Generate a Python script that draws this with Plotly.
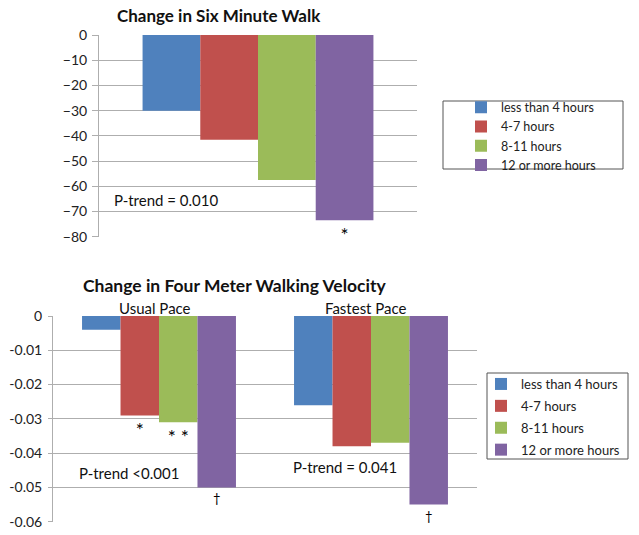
import plotly.graph_objects as go

# ---- data ----
groups = ["less than 4 hours", "4-7 hours", "8-11 hours", "12 or more hours"]
colors = ["#4F81BD", "#C0504D", "#9BBB59", "#8064A2"]

walk_cat = ["Six Minute Walk"]
walk_vals = [[-30], [-41.5], [-57.5], [-73.5]]
walk_marks = [[""], [""], [""], ["*"]]

pace_cats = ["Usual Pace", "Fastest Pace"]
pace_vals = [[-0.004, -0.026], [-0.029, -0.038], [-0.031, -0.037], [-0.050, -0.055]]
pace_marks = [["", ""], ["*", ""], ["* *", ""], ["†", "†"]]

top_ticks = [0, -10, -20, -30, -40, -50, -60, -70, -80]
bot_ticks = [0, -0.01, -0.02, -0.03, -0.04, -0.05, -0.06]
bot_labels = ["0", "-0.01", "-0.02", "-0.03", "-0.04", "-0.05", "-0.06"]

FONT = "Lato"
W, H = 639, 535


def mark_sizes(marks):
    return [19 if "*" in m else 13 for m in marks]


fig = go.Figure()
for i, g in enumerate(groups):
    mf = dict(size=mark_sizes(walk_marks[i]), color="#000000", family=FONT)
    fig.add_trace(go.Bar(
        x=walk_cat, y=walk_vals[i], name=g, marker=dict(color=colors[i], line=dict(width=0)),
        text=walk_marks[i], textposition="outside", constraintext="none", cliponaxis=False,
        textfont=mf, outsidetextfont=mf, hoverinfo="skip",
        xaxis="x", yaxis="y", legend="legend", legendgroup="t%d" % i))
for i, g in enumerate(groups):
    mf = dict(size=mark_sizes(pace_marks[i]), color="#000000", family=FONT)
    fig.add_trace(go.Bar(
        x=pace_cats, y=pace_vals[i], name=g, marker=dict(color=colors[i], line=dict(width=0)),
        text=pace_marks[i], textposition="outside", constraintext="none", cliponaxis=False,
        textfont=mf, outsidetextfont=mf, hoverinfo="skip",
        xaxis="x2", yaxis="y2", legend="legend2", legendgroup="b%d" % i))

def px(x): return x / W
def py(y): return 1 - y / H

grid = "#AEAEAE"
tickfont = dict(size=14, family=FONT, color="#222222")
fig.update_layout(
    width=W, height=H, margin=dict(l=0, r=0, t=0, b=0, autoexpand=False),
    paper_bgcolor="white", plot_bgcolor="white",
    font=dict(family=FONT, size=12, color="#222222"),
    barmode="group", bargap=0.274, bargroupgap=0,
    xaxis=dict(domain=[px(99), px(417)], anchor="y", showticklabels=False, showgrid=False,
               zeroline=False, showline=False, automargin=False),
    yaxis=dict(domain=[py(236.7), py(35)], anchor="x", range=[-80, 0], tickvals=top_ticks,
               showgrid=True, gridcolor=grid, gridwidth=1, zeroline=False, automargin=False,
               showline=True, linecolor=grid, ticks="outside", ticklen=6, tickcolor=grid,
               tickfont=tickfont, ticklabelstandoff=2),
    xaxis2=dict(domain=[px(53), px(477)], anchor="y2", showticklabels=False, showgrid=False,
                zeroline=False, showline=False, automargin=False),
    yaxis2=dict(domain=[py(521.7), py(316)], anchor="x2", range=[-0.06, 0], tickvals=bot_ticks,
                ticktext=bot_labels, showgrid=True, gridcolor=grid, gridwidth=1, zeroline=False,
                automargin=False,
                showline=True, linecolor=grid, ticks="outside", ticklen=4, tickcolor=grid,
                tickfont=tickfont, ticklabelstandoff=3),
    legend=dict(x=px(461), y=py(92.5), xanchor="left", yanchor="top", bgcolor="rgba(0,0,0,0)",
                borderwidth=0, font=dict(size=12.5, family=FONT, color="#222222"),
                tracegroupgap=0, itemclick=False, itemdoubleclick=False),
    legend2=dict(x=px(481), y=py(369), xanchor="left", yanchor="top", bgcolor="rgba(0,0,0,0)",
                 borderwidth=0, font=dict(size=13, family=FONT, color="#222222"),
                 tracegroupgap=2, itemclick=False, itemdoubleclick=False),
    showlegend=True,
)

# legend frames
fig.add_shape(type="rect", xref="paper", yref="paper", x0=px(443), x1=px(623), y0=py(169), y1=py(101),
              line=dict(color="#555555", width=1))
fig.add_shape(type="rect", xref="paper", yref="paper", x0=px(487), x1=px(628), y0=py(459), y1=py(373),
              line=dict(color="#555555", width=1))

ann = [
    dict(text="<b>Change in Six Minute Walk</b>", x=px(219), y=py(15), size=17),
    dict(text="<b>Change in Four Meter Walking Velocity</b>", x=px(234), y=py(285), size=17.5),
    dict(text="P-trend = 0.010", x=px(166), y=py(200), size=15),
    dict(text="P-trend <0.001", x=px(129), y=py(473), size=15),
    dict(text="P-trend = 0.041", x=px(345), y=py(467), size=15),
]
for a in ann:
    fig.add_annotation(text=a["text"], x=a["x"], y=a["y"], xref="paper", yref="paper",
                       xanchor="center", yanchor="middle", showarrow=False,
                       font=dict(size=a["size"], family=FONT, color="#111111"))
for c, sh in zip(pace_cats, [-4, -5]):
    fig.add_annotation(text=c, x=c, xref="x2", y=py(308), yref="paper", xanchor="center",
                       yanchor="middle", showarrow=False, xshift=sh,
                       font=dict(size=15, family=FONT, color="#111111"))

fig.write_html("out.html", config={"displayModeBar": False},
               post_script="document.body.style.margin='0';")
